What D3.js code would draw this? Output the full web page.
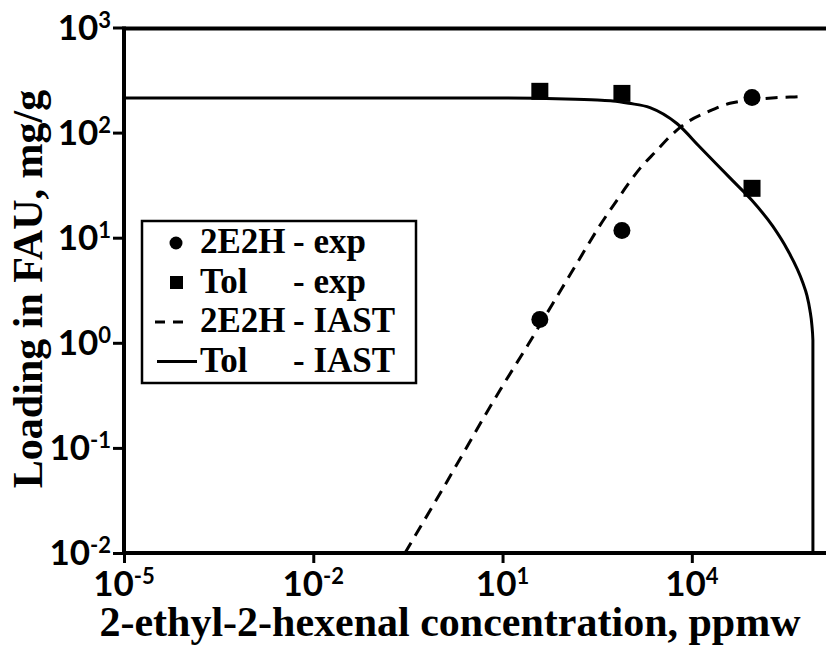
<!DOCTYPE html>
<html>
<head>
<meta charset="utf-8">
<script src="https://cdn.jsdelivr.net/npm/d3@7"></script>
<style>
  body { margin: 0; background: #fff; }
  svg { display: block; }
  .tick-label { font-family: Lato, 'Liberation Sans', sans-serif; font-weight: bold; font-size: 35px; }
  .tick-label .sup { font-size: 22px; }
  .serif { font-family: 'Liberation Serif', 'Times New Roman', serif; font-weight: bold; }
</style>
</head>
<body>
<svg id="chart" width="826" height="647"></svg>
<script>
// Decade exponents for the tick labels
const xTickExps = [-5, -2, 1, 4];
const yTickExps = [-2, -1, 0, 1, 2, 3];

// Experimental loadings (mg/g) at the measured concentrations (ppmw)
const expConc = [39, 780, 9.0e4];
const e2hExp  = [1.67, 11.7, 216];
const tolExp  = [247, 236, 29.5];

// IAST prediction for 2-ethyl-2-hexenal
const e2hIastConc = [0.284, 1, 9.1, 26.2, 63, 151, 350, 650, 1510, 2800, 4030, 8360, 17300, 40200, 2.49e5, 5.75e5, 6.2e5];
const e2hIastLoad = [0.01, 0.036, 0.354, 0.99, 2.38, 5.71, 13.1, 22.7, 45.7, 67.8, 86.1, 125, 156, 190, 216, 221, 222];

// IAST prediction for toluene
const tolIastConc = [1e-5, 1e-3, 0.1, 1, 10, 100, 316, 560, 1000, 2170, 5800, 13400, 44800, 89500, 1.93e5, 3.21e5, 5.77e5, 6.67e5, 7.45e5, 8.0e5, 8.3e5, 8.31e5];
const tolIastLoad = [213, 213, 213, 213, 213, 209, 204, 200, 190, 173, 122, 73, 34.7, 22.7, 12.8, 7.85, 3.7, 2.83, 2.04, 1.47, 1.06, 0.01];

// Legend rows
const legendNames  = ["2E2H", "Tol", "2E2H", "Tol"];
const legendSuffix = ["- exp", "- exp", "- IAST", "- IAST"];
const legendKinds  = ["circle", "square", "dash", "solid"];

const W = 826, H = 647;
const svg = d3.select("#chart");

const x = d3.scaleLog().domain([1e-5, 1e6]).range([124, 818]);
const y = d3.scaleLog().domain([1e-2, 1e3]).range([553, 27.5]);

// Frame: left axis, bottom axis and top border
const x0 = x.range()[0], yB = y.range()[0], yT = y.range()[1];
svg.append("line").attr("x1", x0).attr("x2", W).attr("y1", yB).attr("y2", yB)
  .attr("stroke", "#000").attr("stroke-width", 4);
svg.append("line").attr("x1", x0).attr("x2", W).attr("y1", yT + 1).attr("y2", yT + 1)
  .attr("stroke", "#000").attr("stroke-width", 4);
svg.append("line").attr("x1", x0).attr("x2", x0).attr("y1", yT - 1).attr("y2", yB + 2)
  .attr("stroke", "#000").attr("stroke-width", 4);

// Axes (ticks only; the domain lines are drawn above)
const xAxis = d3.axisBottom(x).tickValues(xTickExps.map(e => Math.pow(10, e)))
  .tickSize(10).tickFormat(() => "");
const gx = svg.append("g").attr("transform", `translate(0,${yB})`).call(xAxis);
gx.select(".domain").remove();
gx.selectAll(".tick line").attr("stroke-width", 3);

const yAxis = d3.axisLeft(y).tickValues(yTickExps.map(e => Math.pow(10, e)))
  .tickSize(11).tickFormat(() => "");
const gy = svg.append("g").attr("transform", `translate(${x0},0)`).call(yAxis);
gy.select(".domain").remove();
gy.selectAll(".tick line").attr("stroke-width", 3);

function powerLabel(sel) {
  sel.each(function (d) {
    const t = d3.select(this);
    t.append("tspan").text("10");
    t.append("tspan").attr("class", "sup").attr("dy", -12).text(d);
  });
}

svg.append("g").selectAll("text").data(xTickExps).join("text")
  .attr("class", "tick-label")
  .attr("x", d => x(Math.pow(10, d)))
  .attr("y", 596)
  .attr("text-anchor", "middle")
  .call(powerLabel);

svg.append("g").selectAll("text").data(yTickExps).join("text")
  .attr("class", "tick-label")
  .attr("x", 111)
  .attr("y", d => y(Math.pow(10, d)) + 12)
  .attr("text-anchor", "end")
  .call(powerLabel);

// Axis titles
svg.append("text").attr("class", "serif")
  .attr("x", 450).attr("y", 636)
  .attr("text-anchor", "middle")
  .style("font-size", "42px")
  .text("2-ethyl-2-hexenal concentration, ppmw");

svg.append("text").attr("class", "serif")
  .attr("transform", "translate(42,289) rotate(-90)")
  .attr("text-anchor", "middle")
  .style("font-size", "42px")
  .text("Loading in FAU, mg/g");

// IAST curves
const line = d3.line().x(d => x(d[0])).y(d => y(d[1])).curve(d3.curveMonotoneX);

svg.append("path")
  .datum(d3.zip(tolIastConc, tolIastLoad))
  .attr("d", line)
  .attr("fill", "none").attr("stroke", "#000").attr("stroke-width", 3);

svg.append("path")
  .datum(d3.zip(e2hIastConc, e2hIastLoad))
  .attr("d", line)
  .attr("fill", "none").attr("stroke", "#000").attr("stroke-width", 3)
  .attr("stroke-dasharray", "12,8");

// Experimental points
svg.append("g").selectAll("circle").data(d3.zip(expConc, e2hExp)).join("circle")
  .attr("cx", d => x(d[0])).attr("cy", d => y(d[1])).attr("r", 8.5).attr("fill", "#000");

const sq = 17;
svg.append("g").selectAll("rect").data(d3.zip(expConc, tolExp)).join("rect")
  .attr("x", d => x(d[0]) - sq / 2).attr("y", d => y(d[1]) - sq / 2)
  .attr("width", sq).attr("height", sq).attr("fill", "#000");

// Legend
const lg = svg.append("g");
lg.append("rect").attr("x", 142).attr("y", 221).attr("width", 274).attr("height", 162)
  .attr("fill", "#fff").attr("stroke", "#000").attr("stroke-width", 2.5);

const rowY = i => 253 + i * 39.5;
legendKinds.forEach((k, i) => {
  const cy = rowY(i) - 10;
  if (k === "circle") {
    lg.append("circle").attr("cx", 176).attr("cy", cy).attr("r", 6.5).attr("fill", "#000");
  } else if (k === "square") {
    lg.append("rect").attr("x", 170).attr("y", cy - 6.5).attr("width", 13).attr("height", 13).attr("fill", "#000");
  } else if (k === "dash") {
    lg.append("line").attr("x1", 155).attr("x2", 183).attr("y1", cy).attr("y2", cy)
      .attr("stroke", "#000").attr("stroke-width", 3).attr("stroke-dasharray", "10,8");
  } else {
    lg.append("line").attr("x1", 157).attr("x2", 197).attr("y1", cy).attr("y2", cy)
      .attr("stroke", "#000").attr("stroke-width", 3);
  }
  lg.append("text").attr("class", "serif").attr("x", 200).attr("y", rowY(i))
    .style("font-size", "35px").text(legendNames[i]);
  lg.append("text").attr("class", "serif").attr("x", 293).attr("y", rowY(i))
    .style("font-size", "35px").text(legendSuffix[i]);
});
</script>
</body>
</html>
